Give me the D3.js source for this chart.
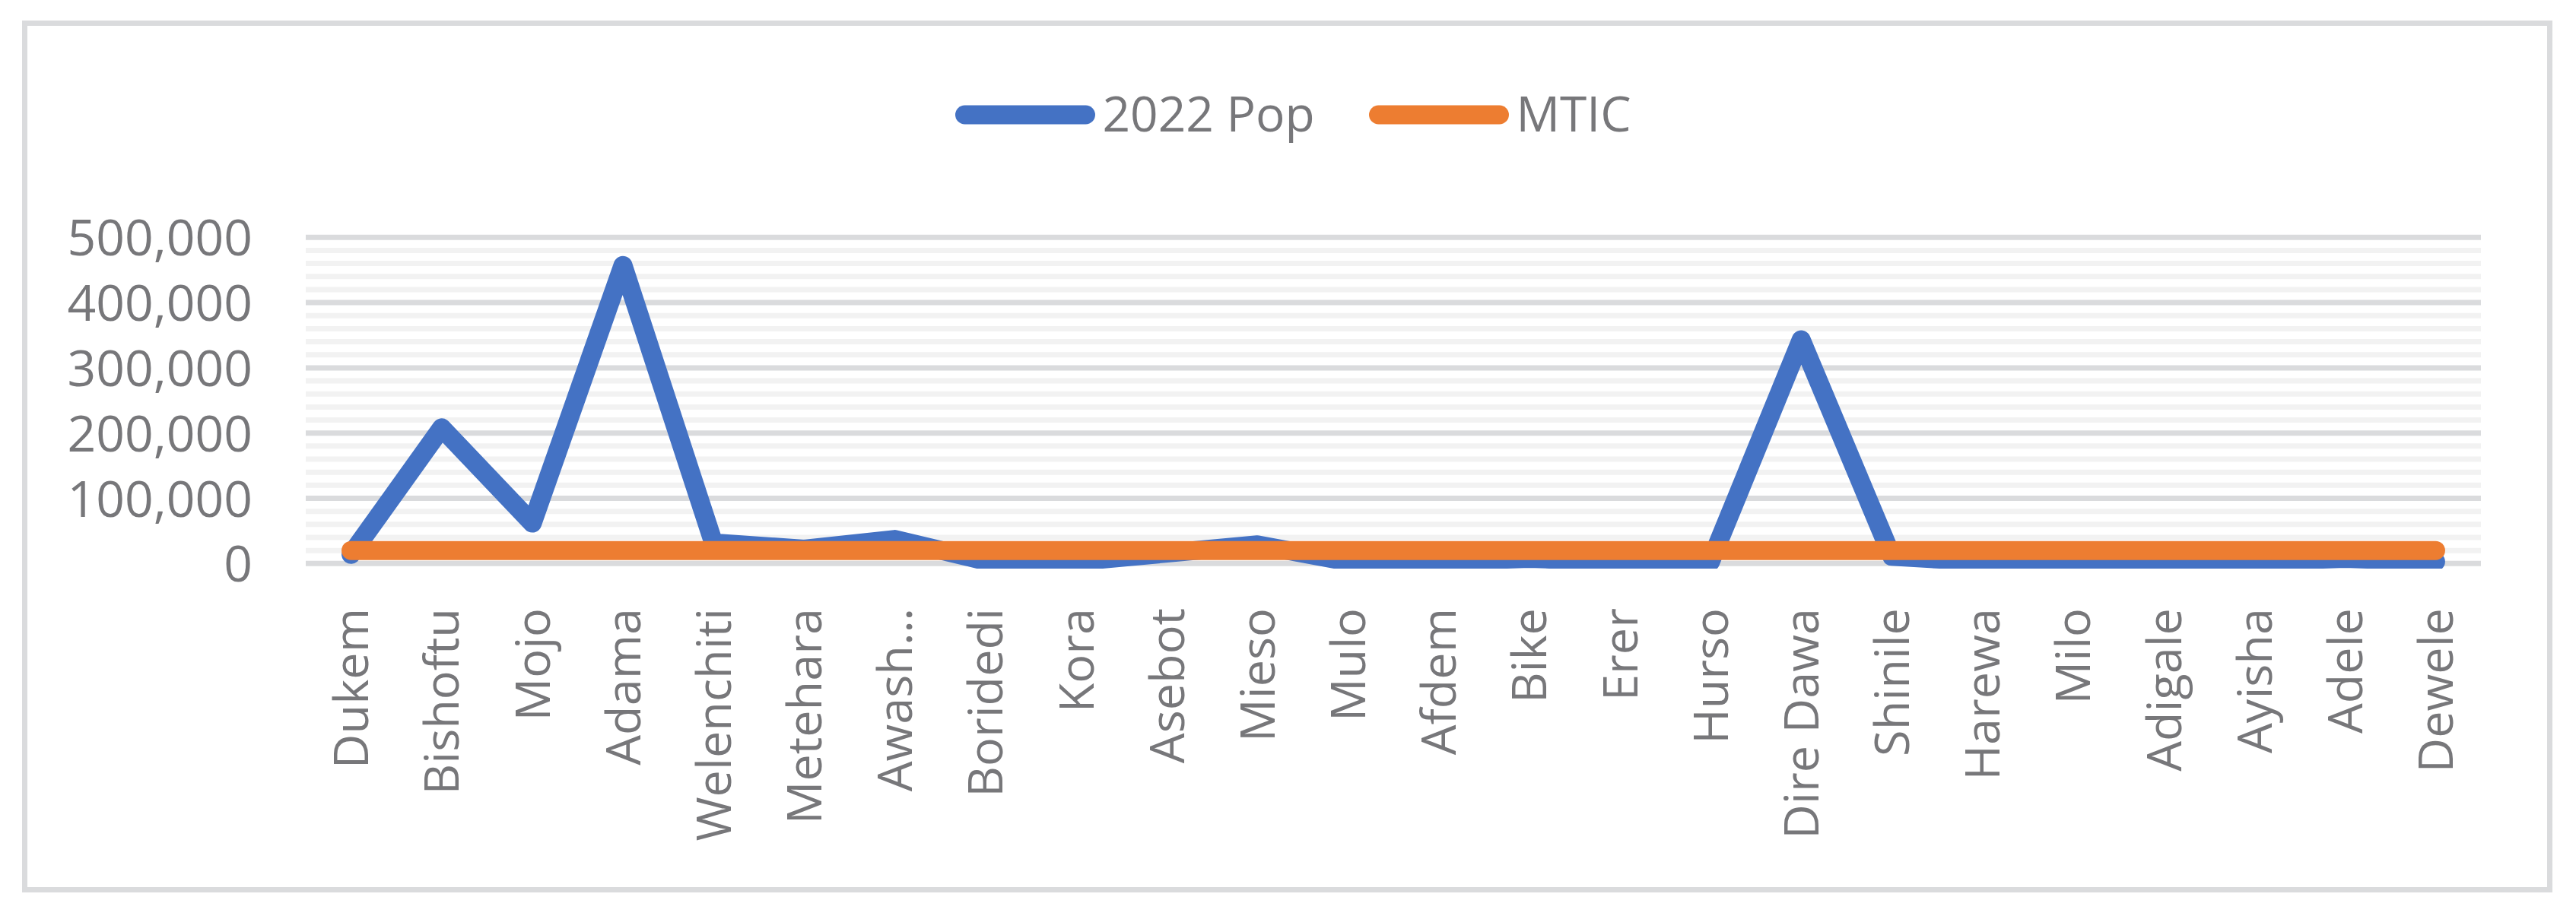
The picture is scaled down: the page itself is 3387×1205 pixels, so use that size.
<!DOCTYPE html>
<html>
<head>
<meta charset="utf-8">
<script src="https://cdn.jsdelivr.net/npm/d3@7"></script>
<style>
  html, body { margin: 0; padding: 0; background: #ffffff; }
  svg { display: block; }
  text { font-family: "Open Sans", "Liberation Sans", sans-serif; fill: #77777a; }
</style>
</head>
<body>
<div id="chart"></div>
<script>
// ---------- data ----------
const categories = ["Dukem", "Bishoftu", "Mojo", "Adama", "Welenchiti", "Metehara", "Awash…",
  "Boridedi", "Kora", "Asebot", "Mieso", "Mulo", "Afdem", "Bike", "Erer", "Hurso",
  "Dire Dawa", "Shinile", "Harewa", "Milo", "Adigale", "Ayisha", "Adele", "Dewele"];
const pop2022 = [14000, 208000, 62000, 457000, 31500, 22000, 37000,
  4000, 3000, 16000, 28600, 3000, 3000, 8000, 2500, 3000,
  343000, 11000, 3000, 2500, 6500, 3000, 8000, 3000];
const mtic = [20000, 20000, 20000, 20000, 20000, 20000, 20000,
  20000, 20000, 20000, 20000, 20000, 20000, 20000, 20000, 20000,
  20000, 20000, 20000, 20000, 20000, 20000, 20000, 20000];
const seriesNames = ["2022 Pop", "MTIC"];
const seriesColors = ["#4472c4", "#ed7d31"];
const yMajorTicks = [0, 100000, 200000, 300000, 400000, 500000];

// ---------- layout ----------
const W = 3387, H = 1205;
const plot = { left: 402, right: 3262, top: 312.3, bottom: 741.3 };

const svg = d3.select("#chart").append("svg")
  .attr("width", W).attr("height", H);

svg.append("rect").attr("x", 0).attr("y", 0).attr("width", W).attr("height", H).attr("fill", "#fff");

// chart border
svg.append("rect")
  .attr("x", 32.5).attr("y", 30.5).attr("width", 3320).attr("height", 1140)
  .attr("fill", "none").attr("stroke", "#dadbdd").attr("stroke-width", 7);

const x = d3.scaleBand().domain(categories).range([plot.left, plot.right]).padding(0);
const y = d3.scaleLinear().domain([0, 500000]).range([plot.bottom, plot.top]);

// minor gridlines
const minor = y.ticks(25).filter(v => yMajorTicks.indexOf(v) < 0);
svg.append("g").selectAll("line").data(minor).join("line")
  .attr("x1", plot.left).attr("x2", plot.right)
  .attr("y1", d => y(d)).attr("y2", d => y(d))
  .attr("stroke", "#f2f2f2").attr("stroke-width", 7);

// major gridlines
svg.append("g").selectAll("line").data(yMajorTicks).join("line")
  .attr("x1", plot.left).attr("x2", plot.right)
  .attr("y1", d => y(d)).attr("y2", d => y(d))
  .attr("stroke", "#dadbdd").attr("stroke-width", 7);

// y axis labels
const fmt = d3.format(",");
const yAxis = d3.axisLeft(y).tickValues(yMajorTicks).tickFormat(fmt).tickSize(0).tickPadding(0);
const gy = svg.append("g").attr("transform", `translate(332,0)`).call(yAxis);
gy.select(".domain").remove();
gy.selectAll("text")
  .attr("font-size", 66)
  .attr("fill", "#77777a")
  .style("font-family", "'Open Sans', sans-serif")
  .attr("dy", "0.357em");

// x axis labels (rotated)
const xAxis = d3.axisBottom(x).tickSize(0).tickPadding(0);
const gx = svg.append("g").attr("transform", `translate(0,0)`).call(xAxis);
gx.select(".domain").remove();
gx.selectAll(".tick").attr("transform", d => `translate(${x(d) + x.bandwidth() / 2},800)`);
gx.selectAll("text")
  .attr("font-size", 63)
  .attr("fill", "#77777a")
  .style("font-family", "'Open Sans', sans-serif")
  .attr("text-anchor", "end")
  .attr("x", 0).attr("y", 0)
  .attr("dy", "0.36em")
  .attr("transform", "rotate(-90)");

// clip for lines (plot area bottom)
svg.append("defs").append("clipPath").attr("id", "plotclip")
  .append("rect").attr("x", 0).attr("y", 0).attr("width", W).attr("height", 748);

const line = d3.line()
  .x((d, i) => x(categories[i]) + x.bandwidth() / 2)
  .y(d => y(d));

const series = [pop2022, mtic];
svg.append("g").attr("clip-path", "url(#plotclip)")
  .selectAll("path").data(series).join("path")
  .attr("d", d => line(d))
  .attr("fill", "none")
  .attr("stroke", (d, i) => seriesColors[i])
  .attr("stroke-width", 25)
  .attr("stroke-linejoin", "round")
  .attr("stroke-linecap", "round");

// legend
const legendY = 151;
const legendStarts = [1268.5, 1812.5];
const legend = svg.append("g");
seriesNames.forEach((name, i) => {
  const x0 = legendStarts[i];
  legend.append("line")
    .attr("x1", x0).attr("x2", x0 + 159)
    .attr("y1", legendY).attr("y2", legendY)
    .attr("stroke", seriesColors[i]).attr("stroke-width", 25)
    .attr("stroke-linecap", "round");
  legend.append("text")
    .attr("x", x0 + 181).attr("y", 173)
    .attr("font-size", 64)
    .text(name);
});
</script>
</body>
</html>
